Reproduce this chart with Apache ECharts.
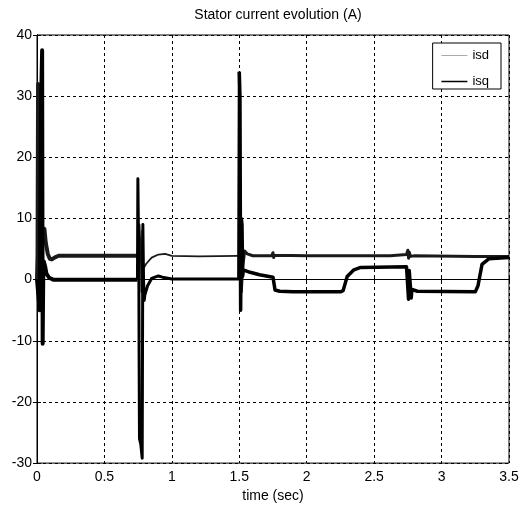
<!DOCTYPE html>
<html>
<head>
<meta charset="utf-8">
<script src="https://cdn.jsdelivr.net/npm/echarts@6/dist/echarts.min.js"></script>
<style>
html,body{margin:0;padding:0;background:#fff;}
#chart{width:527px;height:508px;}
</style>
</head>
<body>
<div id="chart"></div>
<script>
// ---- data ----
var titleText = 'Stator current evolution (A)';
var xName = 'time (sec)';
var seriesNames = ['isd', 'isq'];
var xTicks = [0, 0.5, 1, 1.5, 2, 2.5, 3, 3.5];
var yTicks = [-30, -20, -10, 0, 10, 20, 30, 40];

var isdTime = [0, 0.004, 0.008, 0.012, 0.016, 0.02, 0.025, 0.03, 0.035, 0.045, 0.055, 0.065, 0.08, 0.095, 0.11, 0.13, 0.16, 0.4, 0.745,
  0.75, 0.76, 0.77, 0.775, 0.78, 0.785, 0.795, 0.81, 0.85, 0.9, 0.95, 1.0, 1.2, 1.49,
  1.51, 1.515, 1.52, 1.525, 1.54, 1.56, 1.6, 1.74, 1.75, 1.755, 1.76, 2.0, 2.62, 2.74, 2.75, 2.755, 2.76, 2.77, 2.8, 3.25, 3.3, 3.5];
var isdValues = [0, 4, 32, 27, 30, 25, 3, -3, 5, 7.5, 8.3, 6, 4.2, 3.4, 3.3, 3.6, 3.9, 3.9, 3.9,
  5, 9, 4, -2, 8, 1.7, 1.7, 2.6, 3.6, 4.1, 4.2, 3.9, 3.8, 3.9,
  3.9, -2, 0.1, 2, 4.7, 4.2, 3.9, 3.9, 4.4, 3.6, 4.0, 3.9, 3.9, 4.1, 4.8, 3.5, 4.5, 3.8, 3.9, 3.8, 3.8, 3.8];

var isqTime = [0, 0.02, 0.028, 0.033, 0.038, 0.042, 0.046, 0.05, 0.06, 0.07, 0.09, 0.12, 0.745,
  0.748, 0.752, 0.755, 0.757, 0.76, 0.77, 0.78, 0.785, 0.79, 0.795, 0.8, 0.82, 0.85, 0.9, 0.93, 1.0, 1.495,
  1.5, 1.505, 1.51, 1.515, 1.52, 1.525, 1.53, 1.58, 1.65, 1.75, 1.76, 1.765, 1.8, 1.9, 2.25, 2.27, 2.3, 2.35, 2.4,
  2.74, 2.75, 2.755, 2.76, 2.775, 2.78, 2.82, 3.25, 3.27, 3.3, 3.35, 3.5];
var isqValues = [0, -5, 23, 32, 37.5, -10.5, 0, 3, 2.2, 1, 0.3, 0, 0,
  16.5, 8, 3, -12, -26, -27, -29.2, 9, 0, -3.4, -2.5, -1, 0.2, 0.6, 0.4, 0.1, 0.1,
  34, 30, -5, 10, 9, 0.6, 1.6, 1.2, 0.8, 0.4, -1.0, -1.7, -1.9, -2.0, -2.0, -1.8, 0.5, 1.6, 2.0,
  2.1, 2.3, -3.2, 1.5, -3.0, -1.6, -1.9, -2.0, -1.0, 2.5, 3.4, 3.6];

// time windows used only to vary the drawn stroke thickness (ripple band)
var segmentBounds = [0, 0.745, 1.5, 3.5];

function pairs(t, v) { return t.map(function (x, i) { return [x, v[i]]; }); }
function segment(t, v, a, b) {
  return pairs(t, v).filter(function (p) { return p[0] >= a && p[0] <= b; });
}

var chart = echarts.init(document.getElementById('chart'), null, {renderer: 'canvas'});
var font = 'Liberation Sans, Arial, Helvetica, sans-serif';
var gridDash = {color: '#000', width: 1, type: [3, 3]};

var widths = {isd: [4, 1.8, 3], isq: [4, 3, 3.5]};
var colors = {isd: '#1a1a1a', isq: '#000'};
var series = [];
[['isd', isdTime, isdValues], ['isq', isqTime, isqValues]].forEach(function (s) {
  for (var k = 0; k < segmentBounds.length - 1; k++) {
    series.push({
      name: s[0], type: 'line', xAxisIndex: 0, yAxisIndex: 0,
      data: segment(s[1], s[2], segmentBounds[k], segmentBounds[k + 1]),
      showSymbol: false, symbol: 'none',
      lineStyle: {color: colors[s[0]], width: widths[s[0]][k], join: 'round'},
      itemStyle: {color: colors[s[0]]}, z: s[0] === 'isq' ? 4 : 3
    });
  }
});

chart.setOption({
  animation: false,
  backgroundColor: '#fff',
  title: {
    text: titleText, left: 273, textAlign: 'center', top: 3,
    textStyle: {fontFamily: font, fontSize: 14, fontWeight: 'normal', color: '#000'}
  },
  legend: {
    orient: 'vertical', right: 26, top: 43,
    backgroundColor: '#fff', borderColor: '#000', borderWidth: 1, borderRadius: 0,
    padding: [6, 12, 1, 8], itemGap: 13, itemWidth: 26, itemHeight: 12,
    textStyle: {fontFamily: font, fontSize: 13, color: '#000'},
    data: [
      {name: seriesNames[0], itemStyle: {opacity: 0}, lineStyle: {color: '#aaa', width: 1}},
      {name: seriesNames[1], itemStyle: {opacity: 0}, lineStyle: {color: '#000', width: 1.5}}
    ]
  },
  grid: {left: 37, right: 18, top: 35, bottom: 43, show: true, borderColor: '#000', borderWidth: 1, backgroundColor: '#fff'},
  xAxis: [{
    type: 'value', min: xTicks[0], max: xTicks[xTicks.length - 1], interval: 0.5,
    name: xName, nameLocation: 'middle', nameGap: 25,
    nameTextStyle: {fontFamily: font, fontSize: 14, color: '#000'},
    axisLine: {show: true, lineStyle: {color: '#000', width: 1}},
    axisTick: {show: true, inside: true, length: 4, lineStyle: {color: '#000'}},
    axisLabel: {fontFamily: font, fontSize: 14, color: '#000', margin: 7, showMinLabel: true, showMaxLabel: true},
    splitLine: {show: true, lineStyle: gridDash}
  }, {
    type: 'value', position: 'top', min: xTicks[0], max: xTicks[xTicks.length - 1], interval: 0.5,
    axisLine: {show: true, lineStyle: {color: '#000'}},
    axisTick: {show: true, inside: true, length: 4, lineStyle: {color: '#000'}},
    axisLabel: {show: false}, splitLine: {show: false}
  }],
  yAxis: [{
    type: 'value', min: yTicks[0], max: yTicks[yTicks.length - 1], interval: 10,
    axisLine: {show: true, lineStyle: {color: '#000', width: 1}},
    axisTick: {show: true, inside: true, length: 4, lineStyle: {color: '#000'}},
    axisLabel: {fontFamily: font, fontSize: 14, color: '#000', margin: 5},
    splitLine: {show: true, lineStyle: gridDash}
  }, {
    type: 'value', position: 'right', min: yTicks[0], max: yTicks[yTicks.length - 1], interval: 10,
    axisLine: {show: true, lineStyle: {color: '#000'}},
    axisTick: {show: true, inside: true, length: 4, lineStyle: {color: '#000'}},
    axisLabel: {show: false}, splitLine: {show: false}
  }],
  series: series
});
</script>
</body>
</html>
